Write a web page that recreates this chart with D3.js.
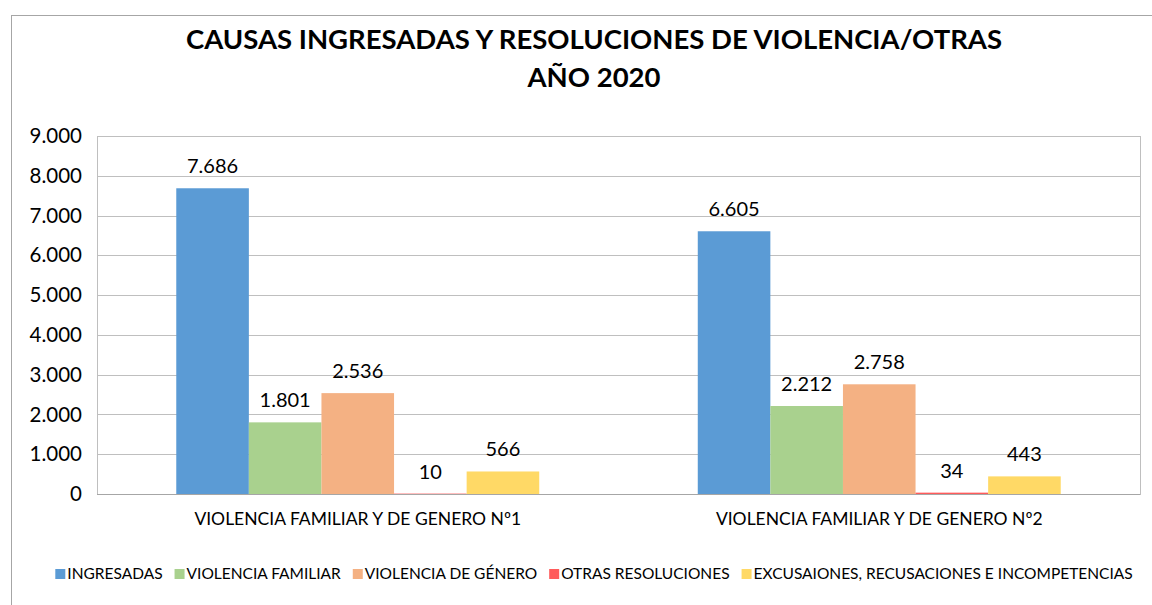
<!DOCTYPE html>
<html>
<head>
<meta charset="utf-8">
<script src="https://cdn.jsdelivr.net/npm/d3@7"></script>
<style>
  body { margin: 0; background: #fff; }
  text { font-family: Lato, "Open Sans", sans-serif; fill: #000; }
</style>
</head>
<body>
<div id="chart"></div>
<script>

// data
const categories = ['VIOLENCIA FAMILIAR Y DE GENERO Nº1', 'VIOLENCIA FAMILIAR Y DE GENERO Nº2']
const seriesNames = ['INGRESADAS', 'VIOLENCIA FAMILIAR', 'VIOLENCIA DE GÉNERO', 'OTRAS RESOLUCIONES', 'EXCUSAIONES, RECUSACIONES E INCOMPETENCIAS']
const ingresadas = [7686, 6605]
const violenciaFamiliar = [1801, 2212]
const violenciaGenero = [2536, 2758]
const otrasResoluciones = [10, 34]
const excusaciones = [566, 443]
const yTicks = [0, 1000, 2000, 3000, 4000, 5000, 6000, 7000, 8000, 9000]
const titleLines = ['CAUSAS INGRESADAS Y RESOLUCIONES DE VIOLENCIA/OTRAS', 'AÑO 2020']

const seriesValues = [ingresadas, violenciaFamiliar, violenciaGenero, otrasResoluciones, excusaciones]
const colors = ['#5B9BD5', '#A9D18E', '#F4B183', '#FF5B5B', '#FFD966']

const width = 1152
const height = 605
const margin = { top: 136, right: 12, bottom: 111, left: 97 }

const locale = d3.formatLocale({ decimal: ',', thousands: '.', grouping: [3], currency: ['$', ''] })
const fmt = locale.format(',d')

const svg = d3.select('#chart').append('svg')
    .attr('width', width)
    .attr('height', height)

// outer chart frame
svg.append('rect')
    .attr('x', 11.5).attr('y', 15.5)
    .attr('width', 1160).attr('height', 620)
    .attr('fill', 'none')
    .attr('stroke', '#a6a6a6')

// title
svg.append('g').selectAll('text')
    .data(titleLines)
    .enter()
    .append('text')
    .attr('x', 594)
    .attr('y', (d, i) => 49 + i * 38)
    .attr('text-anchor', 'middle')
    .style('font-size', '27.5px')
    .style('font-weight', 'bold')
    .text(d => d)

const innerW = width - margin.left - margin.right
const innerH = height - margin.top - margin.bottom

const g = svg.append('g')
    .attr('transform', `translate(${margin.left},${margin.top})`)

const x0 = d3.scaleBand()
    .domain(categories)
    .range([0, innerW])

const x1 = d3.scaleBand()
    .domain(seriesNames)
    .range([0, x0.bandwidth() * 0.696])

const y = d3.scaleLinear()
    .domain([0, 9000])
    .range([innerH, 0])

// plot area border + gridlines
g.append('rect')
    .attr('x', 0.5).attr('y', 0.5)
    .attr('width', innerW).attr('height', innerH)
    .attr('fill', 'none')
    .attr('stroke', '#bfbfbf')

g.append('g')
    .selectAll('line')
    .data(yTicks)
    .enter()
    .append('line')
    .attr('x1', 0).attr('x2', innerW)
    .attr('y1', d => Math.round(y(d)) + 0.5)
    .attr('y2', d => Math.round(y(d)) + 0.5)
    .attr('stroke', d => d === 0 ? '#a6a6a6' : '#bfbfbf')

// y axis labels
const yAxis = d3.axisLeft(y)
    .tickValues(yTicks)
    .tickFormat(fmt)
    .tickSize(0)
    .tickPadding(15)

g.append('g')
    .call(yAxis)
    .call(ax => ax.select('.domain').remove())
    .selectAll('text')
    .style('font-size', '20.5px')
    .style('font-family', 'Lato, sans-serif')
    .attr('fill', '#000')

// x axis labels
const xAxis = d3.axisBottom(x0).tickSize(0).tickPadding(19)
g.append('g')
    .attr('transform', `translate(0,${innerH})`)
    .call(xAxis)
    .call(ax => ax.select('.domain').remove())
    .selectAll('text')
    .style('font-size', '17.5px')
    .style('font-family', 'Lato, sans-serif')
    .attr('fill', '#000')

// bars
const offset = (x0.bandwidth() - x1.range()[1]) / 2
const groups = g.selectAll('.grp')
    .data(categories)
    .enter()
    .append('g')
    .attr('class', 'grp')
    .attr('transform', d => `translate(${x0(d) + offset},0)`)

groups.selectAll('rect')
    .data((c, ci) => seriesNames.map((s, si) => ({ s, si, v: seriesValues[si][ci] })))
    .enter()
    .append('rect')
    .attr('x', d => x1(d.s))
    .attr('y', d => y(d.v))
    .attr('width', x1.bandwidth())
    .attr('height', d => innerH - y(d.v))
    .attr('fill', d => colors[d.si])

groups.selectAll('.lbl')
    .data((c, ci) => seriesNames.map((s, si) => ({ s, si, v: seriesValues[si][ci] })))
    .enter()
    .append('text')
    .attr('class', 'lbl')
    .attr('x', d => x1(d.s) + x1.bandwidth() / 2)
    .attr('y', d => y(d.v) - 15)
    .attr('text-anchor', 'middle')
    .style('font-size', '20px')
    .text(d => fmt(d.v))

// legend
const legend = svg.append('g')
const items = legend.selectAll('g')
    .data(seriesNames)
    .enter()
    .append('g')

items.append('rect')
    .attr('width', 10).attr('height', 10)
    .attr('y', -10)
    .attr('fill', (d, i) => colors[i])

items.append('text')
    .attr('x', 12)
    .attr('y', 0)
    .style('font-size', '15.5px')
    .text(d => d)

let cx = 0
items.each(function () {
    const w = this.querySelector('text').getComputedTextLength()
    d3.select(this).attr('transform', `translate(${cx},0)`)
    cx += 12 + w + 12
})
const legendW = cx - 12
legend.attr('transform', `translate(${594 - legendW / 2},579)`)

</script>
</body>
</html>
